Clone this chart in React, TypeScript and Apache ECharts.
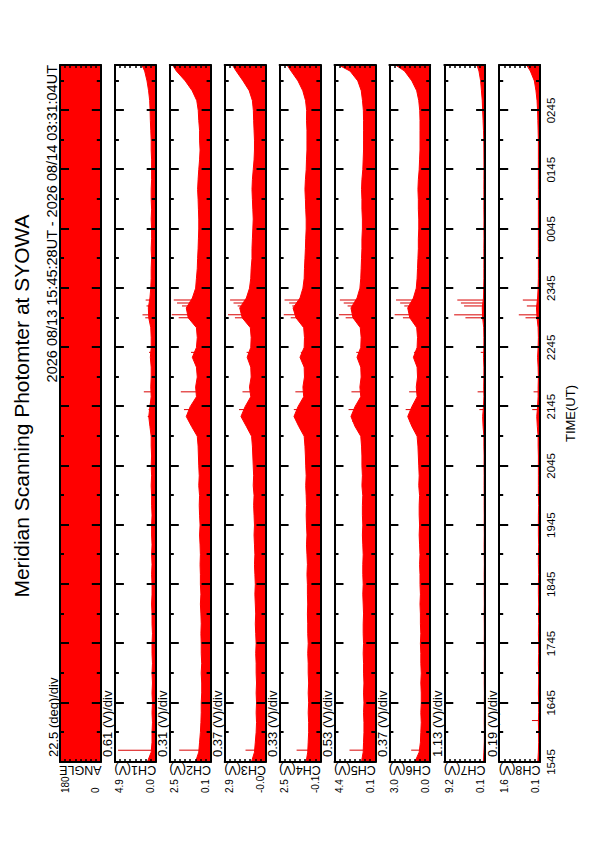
import React, { useEffect, useRef } from "react";
import * as echarts from "echarts";

// Time of each sample, minutes after 15:45 UT
const sampleMinutes = [
  0.5, 10, 20, 30, 40, 50,
  60, 70, 80, 90, 100, 110,
  120, 130, 140, 150, 160, 170,
  180, 190, 200, 210, 220, 230,
  240, 250, 260, 270, 280, 290,
  300, 310, 320, 330, 340, 350,
  360, 370, 380, 390, 400, 410,
  420, 430, 440, 450, 460, 470,
  480, 490, 500, 510, 520, 530,
  540, 550, 560, 570, 580, 590,
  600, 610, 620, 630, 640, 650,
  660, 670, 680, 690, 700, 706.1,
];

// Scan angle envelope (deg)
const angleMinutes = [0.5, 706.1];
const angleMax = [180, 180];

// Upper envelope of each channel (V)
const ch1Volts = [
  0.98, 0.54, 0.44, 0.44, 0.39, 0.44,
  0.39, 0.44, 0.39, 0.44, 0.39, 0.44,
  0.44, 0.39, 0.44, 0.44, 0.49, 0.44,
  0.44, 0.49, 0.44, 0.49, 0.44, 0.49,
  0.49, 0.44, 0.49, 0.49, 0.54, 0.49,
  0.54, 0.49, 0.54, 0.54, 0.69, 0.83,
  0.69, 0.54, 0.59, 0.54, 0.54, 0.64,
  0.54, 0.54, 0.59, 0.83, 0.88, 0.69,
  0.59, 0.54, 0.54, 0.49, 0.54, 0.49,
  0.49, 0.54, 0.49, 0.54, 0.54, 0.49,
  0.49, 0.49, 0.54, 0.54, 0.59, 0.64,
  0.67, 0.72, 0.85, 1.04, 1.32, 1.66,
];
const ch2Volts = [
  0.97, 0.78, 0.73, 0.68, 0.65, 0.63,
  0.63, 0.60, 0.60, 0.63, 0.60, 0.63,
  0.63, 0.65, 0.63, 0.65, 0.68, 0.65,
  0.68, 0.68, 0.70, 0.68, 0.70, 0.73,
  0.70, 0.73, 0.75, 0.73, 0.78, 0.75,
  0.78, 0.80, 0.82, 0.87, 1.22, 1.54,
  1.30, 0.92, 0.97, 0.87, 0.92, 1.17,
  0.92, 0.87, 0.92, 1.42, 1.54, 1.17,
  0.97, 0.92, 0.87, 0.85, 0.82, 0.80,
  0.78, 0.78, 0.80, 0.82, 0.85, 0.82,
  0.78, 0.73, 0.70, 0.73, 0.73, 0.78,
  0.81, 0.90, 1.18, 1.60, 2.14, 2.37,
];
const ch3Volts = [
  0.99, 0.78, 0.72, 0.66, 0.63, 0.66,
  0.63, 0.66, 0.63, 0.66, 0.66, 0.69,
  0.66, 0.69, 0.72, 0.69, 0.72, 0.75,
  0.72, 0.75, 0.78, 0.75, 0.78, 0.81,
  0.78, 0.81, 0.84, 0.81, 0.87, 0.84,
  0.87, 0.90, 0.93, 0.99, 1.37, 1.76,
  1.46, 1.05, 1.14, 1.02, 1.05, 1.31,
  1.05, 1.02, 1.08, 1.67, 1.85, 1.37,
  1.14, 1.05, 1.02, 0.96, 0.96, 0.93,
  0.90, 0.87, 0.90, 0.93, 0.96, 0.93,
  0.87, 0.81, 0.78, 0.78, 0.81, 0.84,
  0.86, 0.93, 1.16, 1.61, 2.11, 2.38,
];
const ch4Volts = [
  0.80, 0.70, 0.67, 0.64, 0.64, 0.67,
  0.64, 0.67, 0.64, 0.67, 0.67, 0.70,
  0.67, 0.70, 0.70, 0.72, 0.70, 0.72,
  0.72, 0.75, 0.72, 0.75, 0.78, 0.75,
  0.78, 0.80, 0.78, 0.80, 0.83, 0.80,
  0.83, 0.85, 0.88, 0.93, 1.28, 1.59,
  1.33, 0.96, 1.01, 0.91, 0.93, 1.20,
  0.93, 0.91, 0.96, 1.46, 1.65, 1.20,
  1.01, 0.93, 0.91, 0.88, 0.85, 0.83,
  0.80, 0.80, 0.83, 0.85, 0.88, 0.85,
  0.80, 0.78, 0.75, 0.75, 0.75, 0.78,
  0.77, 0.84, 1.02, 1.33, 1.78, 2.04,
];
const ch5Volts = [
  1.55, 1.38, 1.34, 1.30, 1.30, 1.34,
  1.30, 1.34, 1.30, 1.34, 1.34, 1.38,
  1.34, 1.38, 1.38, 1.34, 1.38, 1.42,
  1.38, 1.42, 1.42, 1.38, 1.42, 1.46,
  1.42, 1.46, 1.46, 1.42, 1.51, 1.46,
  1.51, 1.51, 1.55, 1.63, 2.23, 2.65,
  2.23, 1.63, 1.72, 1.59, 1.63, 2.02,
  1.63, 1.59, 1.68, 2.44, 2.65, 2.02,
  1.72, 1.63, 1.59, 1.55, 1.51, 1.51,
  1.46, 1.46, 1.51, 1.51, 1.55, 1.51,
  1.42, 1.38, 1.34, 1.34, 1.34, 1.34,
  1.36, 1.45, 1.58, 1.94, 2.75, 3.94,
];
const ch6Volts = [
  1.12, 0.82, 0.73, 0.70, 0.67, 0.70,
  0.67, 0.67, 0.70, 0.67, 0.70, 0.70,
  0.73, 0.70, 0.73, 0.73, 0.76, 0.73,
  0.76, 0.76, 0.79, 0.76, 0.79, 0.82,
  0.79, 0.82, 0.82, 0.79, 0.85, 0.82,
  0.85, 0.88, 0.91, 0.97, 1.35, 1.65,
  1.35, 0.97, 1.03, 0.94, 0.97, 1.24,
  0.97, 0.94, 1.00, 1.50, 1.65, 1.24,
  1.03, 0.97, 0.94, 0.91, 0.88, 0.88,
  0.85, 0.85, 0.88, 0.88, 0.91, 0.88,
  0.82, 0.79, 0.76, 0.76, 0.76, 0.76,
  0.78, 0.85, 1.00, 1.35, 1.88, 2.54,
];
const ch7Volts = [
  0.50, 0.41, 0.32, 0.30, 0.33, 0.31,
  0.32, 0.30, 0.33, 0.31, 0.32, 0.30,
  0.33, 0.31, 0.32, 0.34, 0.31, 0.33,
  0.32, 0.34, 0.31, 0.33, 0.35, 0.32,
  0.34, 0.33, 0.35, 0.34, 0.36, 0.35,
  0.37, 0.36, 0.41, 0.41, 0.59, 0.68,
  0.50, 0.41, 0.45, 0.41, 0.41, 0.50,
  0.41, 0.41, 0.45, 0.68, 0.77, 0.50,
  0.45, 0.41, 0.41, 0.40, 0.41, 0.39,
  0.40, 0.39, 0.41, 0.40, 0.41, 0.40,
  0.39, 0.40, 0.41, 0.43, 0.50, 0.59,
  0.68, 0.77, 0.95, 1.13, 1.50, 1.95,
];
const ch8Volts = [
  0.14, 0.12, 0.11, 0.11, 0.12, 0.11,
  0.11, 0.12, 0.11, 0.11, 0.12, 0.11,
  0.11, 0.12, 0.11, 0.12, 0.11, 0.12,
  0.12, 0.11, 0.12, 0.12, 0.11, 0.12,
  0.12, 0.12, 0.11, 0.12, 0.12, 0.12,
  0.12, 0.12, 0.13, 0.13, 0.16, 0.18,
  0.15, 0.13, 0.13, 0.12, 0.13, 0.15,
  0.13, 0.12, 0.13, 0.17, 0.19, 0.15,
  0.13, 0.12, 0.12, 0.12, 0.12, 0.12,
  0.12, 0.12, 0.12, 0.12, 0.12, 0.12,
  0.12, 0.12, 0.12, 0.12, 0.13, 0.14,
  0.15, 0.17, 0.21, 0.27, 0.42, 0.56,
];

// Isolated spikes: [minutes after 15:45 UT, volts]
const ch1Spikes = [[12, 4.5], [350, 0.95], [357, 0.85], [375, 1.42], [415, 0.8], [450, 1.25], [453, 1.58], [462, 1.1], [468, 1.2]];
const ch2Spikes = [[12, 1.97], [345, 1.35], [357, 1.68], [375, 1.87], [415, 1.25], [450, 2.0], [453, 2.42], [462, 1.8], [465, 2.1], [468, 2.3]];
const ch3Spikes = [[12, 1.43], [345, 1.5], [357, 1.9], [375, 1.65], [415, 1.35], [450, 2.2], [453, 2.7], [462, 2.0], [465, 2.3], [468, 2.55]];
const ch4Spikes = [[12, 1.42], [345, 1.3], [357, 1.6], [375, 1.5], [415, 1.15], [450, 1.8], [453, 2.25], [462, 1.7], [465, 1.9], [468, 2.2]];
const ch5Spikes = [[12, 2.8], [345, 2.5], [357, 2.9], [375, 2.6], [415, 2.1], [450, 3.2], [453, 3.9], [462, 3.0], [465, 3.4], [468, 3.8]];
const ch6Spikes = [[12, 1.4], [345, 1.5], [357, 1.8], [375, 1.55], [415, 1.2], [450, 2.0], [453, 2.6], [462, 1.9], [465, 2.2], [468, 2.5]];
const ch7Spikes = [[357, 1.4], [375, 1.8], [415, 1.1], [450, 4.5], [453, 7.0], [462, 4.8], [465, 5.5], [468, 6.3]];
const ch8Spikes = [[42, 0.36], [357, 0.35], [375, 0.3], [450, 0.6], [453, 0.85], [462, 0.55], [468, 0.7]];

const panelNames = ["ANGLE", "CH1(V)", "CH2(V)", "CH3(V)", "CH4(V)", "CH5(V)", "CH6(V)", "CH7(V)", "CH8(V)"];
const perDivLabels = ["22.5 (deg)/div", "0.61 (V)/div", "0.31 (V)/div", "0.37 (V)/div", "0.33 (V)/div", "0.53 (V)/div", "0.37 (V)/div", "1.13 (V)/div", "0.19 (V)/div"];
const axisMins = [0, 0, 0.06, -0.02, -0.12, 0.12, 0.02, 0.14, 0.06];
const axisMaxs = [180, 4.88, 2.54, 2.94, 2.52, 4.36, 2.98, 9.18, 1.58];
const timeStartMinuteOfDay = 15 * 60 + 45;
const timeEndMinutes = 706.1;
const titleText = "Meridian Scanning Photomter at SYOWA";
const periodText = "2026 08/13 15:45:28UT - 2026 08/14 03:31:04UT";
const timeAxisName = "TIME(UT)";

const channelVolts = [ch1Volts, ch2Volts, ch3Volts, ch4Volts, ch5Volts, ch6Volts, ch7Volts, ch8Volts];
const channelSpikes = [ch1Spikes, ch2Spikes, ch3Spikes, ch4Spikes, ch5Spikes, ch6Spikes, ch7Spikes, ch8Spikes];

const SANS = "'Liberation Sans', Arial, Helvetica, sans-serif";
const RED = "#ff0000";

const W = 842;
const H = 595;
const GRID_LEFT = 80;
const GRID_RIGHT = 65;
const PANEL_TOP0 = 60;
const PANEL_STEP = 54.9;
const PANEL_H = 40.8;

function hhmm(t: number) {
  const m = Math.round(timeStartMinuteOfDay + t);
  const hh = Math.floor(m / 60) % 24;
  const mm = m % 60;
  return String(hh).padStart(2, "0") + String(mm).padStart(2, "0");
}

function buildOption() {
  const grid: any[] = [];
  const xAxis: any[] = [];
  const yAxis: any[] = [];
  const series: any[] = [];
  const graphic: any[] = [];

  panelNames.forEach((name, i) => {
    const top = PANEL_TOP0 + PANEL_STEP * i;
    grid.push({ left: GRID_LEFT, right: GRID_RIGHT, top, height: PANEL_H, containLabel: false });
    const last = i === panelNames.length - 1;
    ["bottom", "top"].forEach((pos) => {
      const showLab = pos === "bottom" && last;
      xAxis.push({
        type: "value",
        gridIndex: i,
        position: pos,
        min: 0,
        max: timeEndMinutes,
        interval: 60,
        z: 5,
        axisLine: { show: true, onZero: false, lineStyle: { color: "#000", width: 2 } },
        axisTick: { show: true, inside: true, length: 9, lineStyle: { color: "#000", width: 2 } },
        minorTick: { show: true, splitNumber: 2, length: 4, lineStyle: { color: "#000", width: 2 } },
        splitLine: { show: false },
        minorSplitLine: { show: false },
        axisLabel: {
          show: showLab,
          margin: 5,
          fontFamily: SANS,
          fontSize: 11.5,
          color: "#000",
          formatter: (v: number) => (Math.abs(v % 60) < 0.01 ? hhmm(v) : ""),
        },
        name: showLab ? timeAxisName : "",
        nameLocation: "middle",
        nameGap: 24,
        nameMoveOverlap: false,
        nameTextStyle: { fontFamily: SANS, fontSize: 13, color: "#000" },
      });
    });

    const min = axisMins[i];
    const max = axisMaxs[i];
    const yInt = (max - min) / 8;
    const fmt = (v: number) => (i === 0 ? v.toFixed(0) : v.toFixed(1));
    const labelBase = { fontFamily: SANS, fontSize: 10, color: "#000", margin: 31, align: "left" };
    yAxis.push({
      type: "value",
      gridIndex: i,
      position: "left",
      min,
      max,
      interval: yInt,
      z: 5,
      axisLine: { show: true, onZero: false, lineStyle: { color: "#000", width: 2 } },
      axisTick: { show: true, inside: true, length: 3, lineStyle: { color: "#000", width: 1.5 } },
      splitLine: { show: false },
      axisLabel: {
        ...labelBase,
        verticalAlign: "top",
        showMinLabel: true,
        showMaxLabel: true,
        formatter: (v: number) => (Math.abs(v - max) < yInt * 0.02 ? fmt(max) : ""),
      },
      name,
      nameLocation: "middle",
      nameGap: 1,
      nameMoveOverlap: false,
      nameTextStyle: { fontFamily: SANS, fontSize: 12.5, color: "#000" },
    });
    yAxis.push({
      type: "value",
      gridIndex: i,
      position: "left",
      min,
      max,
      interval: yInt,
      z: 5,
      axisLine: { show: false },
      axisTick: { show: false },
      splitLine: { show: false },
      axisLabel: {
        ...labelBase,
        verticalAlign: "bottom",
        showMinLabel: true,
        showMaxLabel: true,
        formatter: (v: number) => (Math.abs(v - min) < yInt * 0.02 ? fmt(min) : ""),
      },
    });
    yAxis.push({
      type: "value",
      gridIndex: i,
      position: "right",
      min,
      max,
      interval: yInt,
      z: 5,
      axisLine: { show: true, onZero: false, lineStyle: { color: "#000", width: 2 } },
      axisTick: { show: true, inside: true, length: 3, lineStyle: { color: "#000", width: 1.5 } },
      splitLine: { show: false },
      axisLabel: { show: false },
    });

    if (i === 0) {
      series.push({
        type: "line",
        xAxisIndex: 0,
        yAxisIndex: 0,
        data: angleMinutes.map((t, k) => [t, angleMax[k]]),
        symbol: "none",
        lineStyle: { color: RED, width: 1 },
        areaStyle: { color: RED, opacity: 1, origin: "start" },
        silent: true,
      });
    } else {
      const volts = channelVolts[i - 1];
      series.push({
        type: "line",
        xAxisIndex: 2 * i,
        yAxisIndex: 3 * i,
        data: sampleMinutes.map((t, k) => [t, volts[k]]),
        symbol: "none",
        lineStyle: { color: RED, width: 1 },
        areaStyle: { color: RED, opacity: 1, origin: "start" },
        clip: true,
        silent: true,
      });
      series.push({
        type: "bar",
        xAxisIndex: 2 * i,
        yAxisIndex: 3 * i,
        data: channelSpikes[i - 1],
        barWidth: 1,
        itemStyle: { color: "#d80000" },
        clip: true,
        silent: true,
      });
    }

    graphic.push({
      type: "text",
      x: GRID_LEFT + 5,
      y: top - 7,
      style: {
        text: perDivLabels[i],
        fontFamily: SANS,
        fontSize: 13,
        fill: "#000",
        textAlign: "left",
        textVerticalAlign: "middle",
        align: "left",
        verticalAlign: "middle",
      },
    });
  });

  graphic.push({
    type: "text",
    x: 436,
    y: 21,
    style: {
      text: titleText,
      fontFamily: SANS,
      fontSize: 21,
      fill: "#000",
      textAlign: "center",
      textVerticalAlign: "middle",
      align: "center",
      verticalAlign: "middle",
    },
  });
  graphic.push({
    type: "text",
    x: W - GRID_RIGHT,
    y: 52,
    style: {
      text: periodText,
      fontFamily: SANS,
      fontSize: 14.5,
      fill: "#000",
      textAlign: "right",
      textVerticalAlign: "middle",
      align: "right",
      verticalAlign: "middle",
    },
  });

  return {
    animation: false,
    backgroundColor: "#fff",
    grid,
    xAxis,
    yAxis,
    series,
    graphic,
  };
}

export default function App() {
  const ref = useRef<HTMLDivElement>(null);
  useEffect(() => {
    if (!ref.current) return;
    const chart = echarts.init(ref.current, null, { renderer: "svg", width: W, height: H });
    chart.setOption(buildOption() as any);
    return () => chart.dispose();
  }, []);
  return (
    <div
      style={{
        position: "absolute",
        left: 0,
        top: 0,
        width: 595,
        height: 842,
        overflow: "hidden",
        background: "#fff",
      }}
    >
      <div
        ref={ref}
        style={{
          position: "absolute",
          left: 0,
          top: 0,
          width: W,
          height: H,
          transformOrigin: "0 0",
          transform: "translateY(842px) rotate(-90deg)",
        }}
      />
    </div>
  );
}
